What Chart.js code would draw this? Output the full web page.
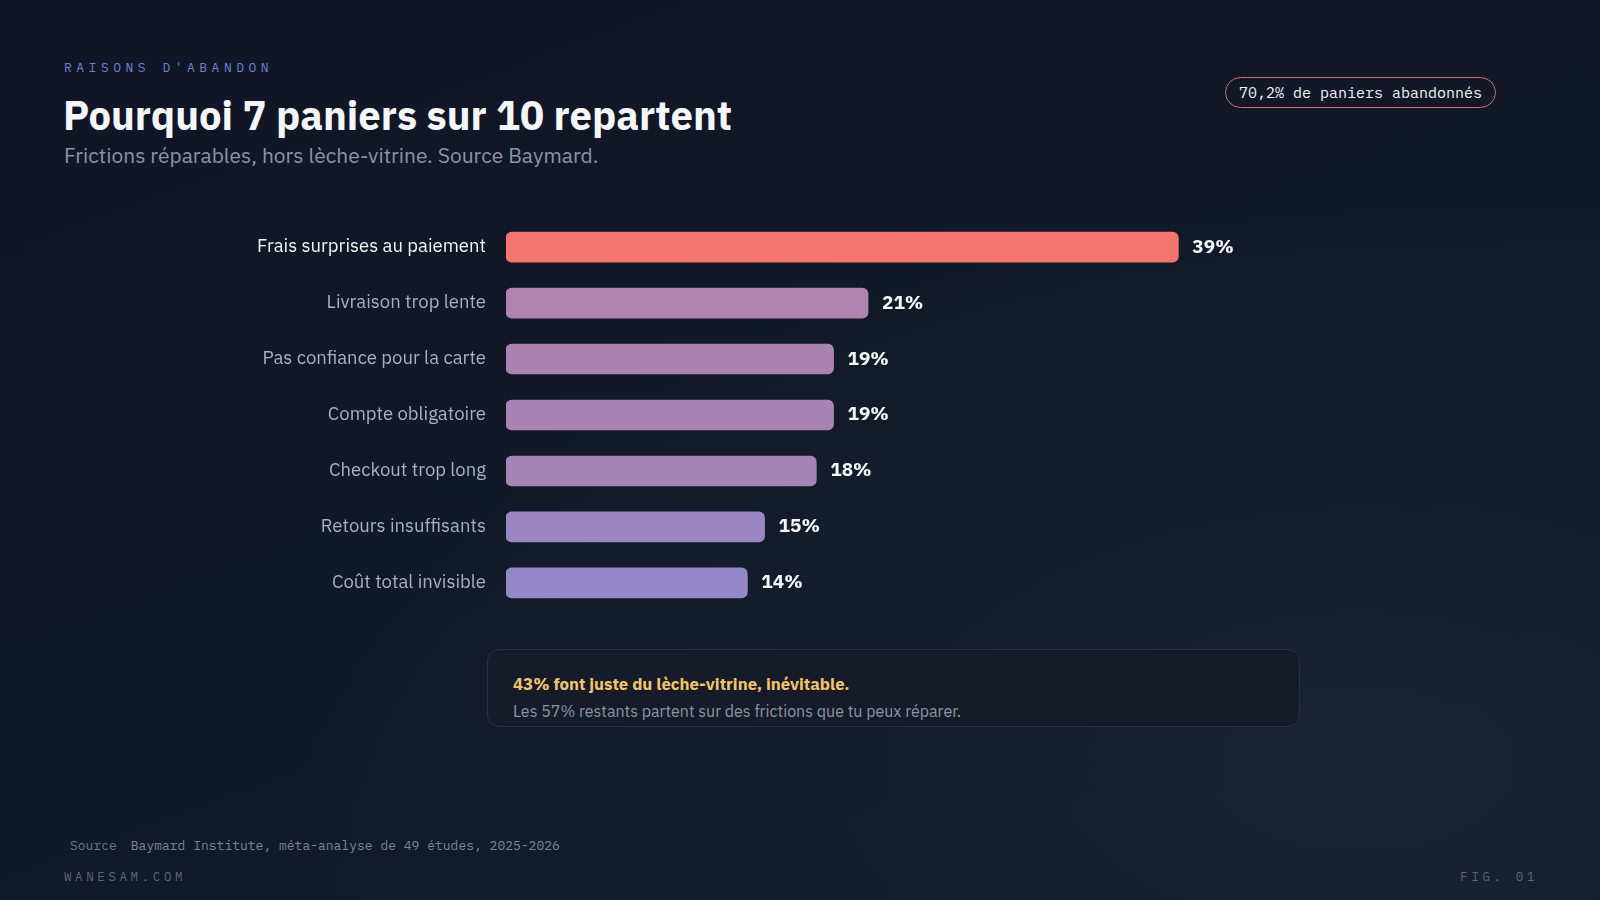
<!DOCTYPE html>
<html lang="fr">
<head>
<meta charset="utf-8">
<title>Raisons d'abandon</title>
<script src="https://cdn.jsdelivr.net/npm/chart.js@4.4.1/dist/chart.umd.min.js"></script>
<style>
  html, body { margin: 0; padding: 0; }
  body {
    width: 1600px; height: 900px; overflow: hidden; position: relative;
    background: radial-gradient(ellipse at 85% 85%, #1a2233 0%, rgba(26,34,51,0) 55%),
                linear-gradient(160deg, #101626 0%, #111827 50%, #141b2b 100%);
    font-family: "IBM Plex Sans", Roboto, "Noto Sans", sans-serif;
    color: #f3f5f8;
  }
  .eyebrow { position: absolute; left: 64px; top: 59px; font-family: "IBM Plex Mono", "DejaVu Sans Mono", monospace;
    font-size: 13px; letter-spacing: 4.5px; color: #6a82d4; }
  h1 { position: absolute; left: 63px; top: 89px; margin: 0; font-size: 40px; font-weight: 700; color: #f5f6f9; }
  .sub { position: absolute; left: 64px; top: 141px; font-size: 21px; color: #8b94a6; }
  .badge { position: absolute; left: 1225px; top: 77px; width: 271px; height: 31px; box-sizing: border-box;
    border: 1px solid #c7706f; border-radius: 16px; background: #121827;
    font-family: "IBM Plex Mono", "DejaVu Sans Mono", monospace; font-size: 15px; color: #f3f5f8;
    display: flex; align-items: center; justify-content: center; }
  #wrap { position: absolute; left: 0; top: 188px; width: 1368px; height: 454px; }
  .note { position: absolute; left: 487px; top: 649px; width: 813px; height: 78px; box-sizing: border-box;
    border: 1px solid #293244; border-radius: 12px; background: #151b29; padding: 23px 25px 0; }
  .note b { display: block; color: #f4c46c; font-size: 16.8px; font-weight: 700; }
  .note span { display: block; color: #8d95a5; font-size: 16px; margin-top: 6px; }
  .src { position: absolute; left: 70px; top: 837px; font-family: "IBM Plex Mono", "DejaVu Sans Mono", monospace;
    font-size: 13px; color: #7c8596; }
  .src i { font-style: normal; color: #6d7687; margin-right: 14px; }
  .foot { position: absolute; top: 868px; font-family: "IBM Plex Mono", "DejaVu Sans Mono", monospace;
    font-size: 12.5px; letter-spacing: 3.6px; color: #5d6677; }
</style>
</head>
<body>
<div class="eyebrow">RAISONS D'ABANDON</div>
<h1>Pourquoi 7 paniers sur 10 repartent</h1>
<div class="sub">Frictions réparables, hors lèche-vitrine. Source Baymard.</div>
<div class="badge">70,2% de paniers abandonnés</div>

<div id="wrap"><canvas id="chart"></canvas></div>

<div class="note">
  <b>43% font juste du lèche-vitrine, inévitable.</b>
  <span>Les 57% restants partent sur des frictions que tu peux réparer.</span>
</div>

<div class="src"><i>Source</i>Baymard Institute, méta-analyse de 49 études, 2025-2026</div>
<div class="foot" style="left:64px">WANESAM.COM</div>
<div class="foot" style="right:62px">FIG. 01</div>

<script>
const reasons = [
  "Frais surprises au paiement",
  "Livraison trop lente",
  "Pas confiance pour la carte",
  "Compte obligatoire",
  "Checkout trop long",
  "Retours insuffisants",
  "Coût total invisible"
];
const shares = [39, 21, 19, 19, 18, 15, 14];
const barColors = ["#f4756e", "#b083b0", "#ab83b3", "#a983b4", "#a784b6", "#9a86c2", "#9588c8"];
const labelColors = ["#f3f5f8", "#a9b1c1", "#a9b1c1", "#a9b1c1", "#a9b1c1", "#a9b1c1", "#a9b1c1"];

const valueLabels = {
  id: 'valueLabels',
  afterDatasetsDraw(chart) {
    const ctx = chart.ctx;
    const meta = chart.getDatasetMeta(0);
    ctx.save();
    ctx.font = '700 19px "IBM Plex Sans", Roboto, "Noto Sans", sans-serif';
    ctx.fillStyle = '#f7f8fa';
    ctx.textAlign = 'left';
    ctx.textBaseline = 'middle';
    meta.data.forEach((bar, i) => {
      ctx.fillText(shares[i] + '%', bar.x + 14, bar.y);
    });
    ctx.restore();
  }
};

new Chart(document.getElementById('chart'), {
  type: 'bar',
  data: {
    labels: reasons,
    datasets: [{
      data: shares,
      backgroundColor: barColors,
      borderRadius: 6,
      borderSkipped: false,
      barThickness: 30
    }]
  },
  options: {
    indexAxis: 'y',
    responsive: true,
    maintainAspectRatio: false,
    animation: false,
    layout: { padding: 0 },
    plugins: { legend: { display: false }, tooltip: { enabled: false } },
    scales: {
      x: { display: false, min: 0, max: 50 },
      y: {
        grid: { display: false, drawTicks: false },
        border: { display: false },
        afterFit(scale) { scale.width = 506; },
        ticks: {
          padding: 20,
          color: (c) => labelColors[c.index],
          font: { size: 18.5, family: '"IBM Plex Sans", Roboto, "Noto Sans", sans-serif' }
        }
      }
    }
  },
  plugins: [valueLabels]
});
</script>
</body>
</html>
